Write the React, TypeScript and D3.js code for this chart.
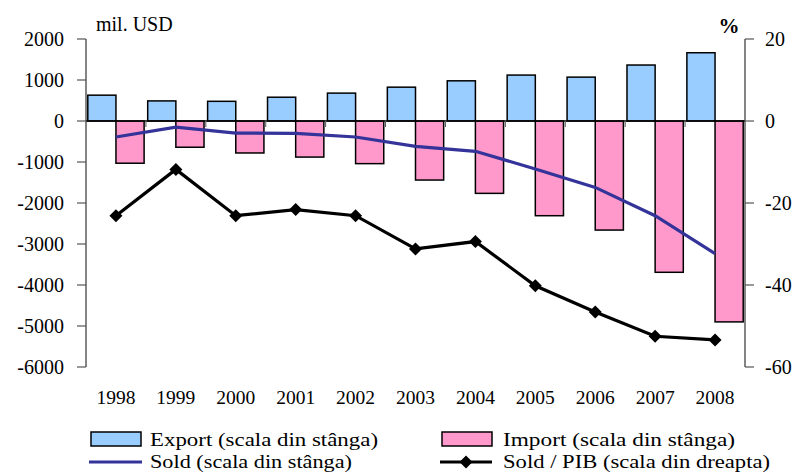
import React from 'react';
import * as d3 from 'd3';

const years = ['1998', '1999', '2000', '2001', '2002', '2003', '2004', '2005', '2006', '2007', '2008'];
const exportVals = [630, 490, 480, 580, 680, 825, 980, 1120, 1070, 1365, 1665];
const importVals = [-1030, -640, -780, -880, -1040, -1440, -1765, -2310, -2660, -3690, -4900];
const soldVals = [-390, -150, -295, -300, -390, -620, -740, -1170, -1620, -2310, -3235];
const soldPibVals = [-23.1, -11.8, -23.1, -21.6, -23.1, -31.2, -29.4, -40.2, -46.6, -52.5, -53.4];
const leftTicks = [2000, 1000, 0, -1000, -2000, -3000, -4000, -5000, -6000];
const rightTicks = [20, 0, -20, -40, -60];

const W = 798;
const H = 473;
const plotL = 86;
const plotR = 745;
const plotT = 39;
const plotB = 367;
const font = '"Liberation Serif", "Times New Roman", serif';

const App = () => {
    const x = d3.scaleBand().domain(years).range([plotL, plotR]);
    const yL = d3.scaleLinear().domain([-6000, 2000]).range([plotB, plotT]);
    const yR = d3.scaleLinear().domain([-60, 20]).range([plotB, plotT]);
    const bw = x.bandwidth() * 0.47;
    const cx = (y: string) => (x(y) as number) + x.bandwidth() / 2;

    const soldLine = d3.line<number>()
        .x((d, i) => cx(years[i]))
        .y(d => yL(d));
    const pibLine = d3.line<number>()
        .x((d, i) => cx(years[i]))
        .y(d => yR(d));

    const diamond = (px: number, py: number, r: number) =>
        `M${px},${py - r}L${px + r},${py}L${px},${py + r}L${px - r},${py}Z`;

    const ts = { fontFamily: font };

    return (
        <svg width={W} height={H} style={{ position: 'absolute', left: 0, top: 0, background: '#fff' }}>
            {/* bars */}
            {years.map((y, i) => (
                <g key={y}>
                    <rect x={cx(y) - bw} y={yL(exportVals[i])} width={bw}
                        height={yL(0) - yL(exportVals[i])} fill="#99ccff" stroke="#000" strokeWidth={1.5} />
                    <rect x={cx(y)} y={yL(0)} width={bw}
                        height={yL(importVals[i]) - yL(0)} fill="#ff99cc" stroke="#000" strokeWidth={1.5} />
                </g>
            ))}

            {/* zero line + category ticks */}
            <line x1={plotL} x2={plotR} y1={yL(0)} y2={yL(0)} stroke="#000" strokeWidth={1.5} />
            {years.map((y, i) => i > 0 && (
                <line key={y} x1={x(y)} x2={x(y)} y1={yL(0)} y2={yL(0) + 6} stroke="#555" strokeWidth={1} />
            ))}

            {/* left axis */}
            <line x1={plotL} x2={plotL} y1={plotT} y2={plotB} stroke="#333" strokeWidth={1.2} />
            {leftTicks.map(t => (
                <g key={t}>
                    <line x1={plotL - 9} x2={plotL} y1={yL(t)} y2={yL(t)} stroke="#555" strokeWidth={1.2} />
                    <text x={64} y={yL(t)} dy="0.35em" textAnchor="end" fontSize={20} style={ts}>{t}</text>
                </g>
            ))}

            {/* right axis */}
            <line x1={plotR} x2={plotR} y1={plotT} y2={plotB} stroke="#333" strokeWidth={1.2} />
            {rightTicks.map(t => (
                <g key={t}>
                    <line x1={plotR} x2={plotR + 9} y1={yR(t)} y2={yR(t)} stroke="#555" strokeWidth={1.2} />
                    <text x={765} y={yR(t)} dy="0.35em" textAnchor="start" fontSize={20} style={ts}>{t}</text>
                </g>
            ))}

            {/* lines */}
            <path d={soldLine(soldVals) as string} fill="none" stroke="#333399" strokeWidth={3.2} />
            <path d={pibLine(soldPibVals) as string} fill="none" stroke="#000" strokeWidth={3.2} />
            {soldPibVals.map((v, i) => (
                <path key={i} d={diamond(cx(years[i]), yR(v), 6.5)} fill="#000" />
            ))}

            {/* year labels */}
            {years.map(y => (
                <text key={y} x={cx(y)} y={404} textAnchor="middle" fontSize={19.5} style={ts}>{y}</text>
            ))}

            {/* axis titles */}
            <text x={96} y={31} fontSize={20} style={ts}>mil. USD</text>
            <text x={729} y={33} fontSize={21} fontWeight="bold" textAnchor="middle" style={ts}>%</text>

            {/* legend */}
            <rect x={91} y={432} width={50} height={14} fill="#99ccff" stroke="#000" strokeWidth={1.5} />
            <text x={150} y={446} fontSize={19.5} textLength={228} lengthAdjust="spacingAndGlyphs" style={ts}>Export (scala din stânga)</text>
            <rect x={442} y={432} width={50} height={14} fill="#ff99cc" stroke="#000" strokeWidth={1.5} />
            <text x={503} y={446} fontSize={19.5} textLength={232} lengthAdjust="spacingAndGlyphs" style={ts}>Import (scala din stânga)</text>
            <line x1={89} x2={142} y1={462} y2={462} stroke="#333399" strokeWidth={3.2} />
            <text x={150} y={468} fontSize={19.5} textLength={202} lengthAdjust="spacingAndGlyphs" style={ts}>Sold (scala din stânga)</text>
            <line x1={440} x2={492} y1={462} y2={462} stroke="#000" strokeWidth={3.2} />
            <path d={diamond(466, 462, 6.5)} fill="#000" />
            <text x={503} y={468} fontSize={19.5} textLength={267} lengthAdjust="spacingAndGlyphs" style={ts}>Sold / PIB (scala din dreapta)</text>
        </svg>
    );
};

export default App;
